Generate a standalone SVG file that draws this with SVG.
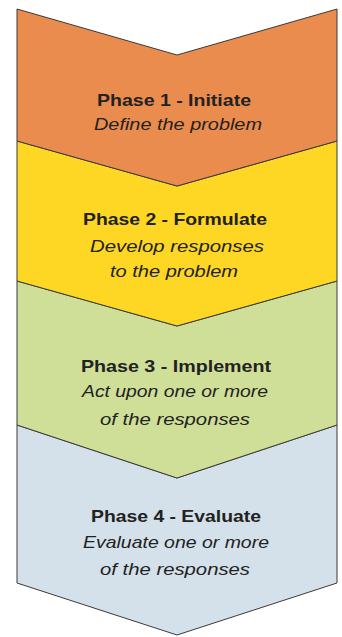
<svg xmlns="http://www.w3.org/2000/svg" width="342" height="637" viewBox="0 0 342 637">
  <style>
    .band { stroke: #3a3a3a; stroke-width: 1; stroke-linejoin: miter; }
    .title { font-family: "Liberation Sans", Arial, sans-serif; font-weight: bold; font-size: 17px; fill: #222; text-anchor: middle; }
    .sub { font-family: "Liberation Sans", Arial, sans-serif; font-style: italic; font-size: 16.5px; fill: #222; text-anchor: middle; }
  </style>
  <rect width="342" height="637" fill="#ffffff"/>

  <!-- Phase 4 -->
  <g id="phase4">
    <polygon class="band" fill="#d4e1ea" points="17,425 177,478 337,425 337,583 177,635 17,583"/>
    <text class="title" x="176" y="522" textLength="170" lengthAdjust="spacingAndGlyphs">Phase 4 - Evaluate</text>
    <text class="sub" x="176" y="548" textLength="186" lengthAdjust="spacingAndGlyphs">Evaluate one or more</text>
    <text class="sub" x="175" y="575" textLength="150" lengthAdjust="spacingAndGlyphs">of the responses</text>
  </g>

  <!-- Phase 3 -->
  <g id="phase3">
    <polygon class="band" fill="#d0df98" points="17,281 177,326 337,281 337,425 177,478 17,425"/>
    <text class="title" x="176" y="372" textLength="190" lengthAdjust="spacingAndGlyphs">Phase 3 - Implement</text>
    <text class="sub" x="175" y="397" textLength="186" lengthAdjust="spacingAndGlyphs">Act upon one or more</text>
    <text class="sub" x="175" y="425" textLength="150" lengthAdjust="spacingAndGlyphs">of the responses</text>
  </g>

  <!-- Phase 2 -->
  <g id="phase2">
    <polygon class="band" fill="#fdd723" points="17,141 177,186 337,141 337,281 177,326 17,281"/>
    <text class="title" x="175" y="225" textLength="184" lengthAdjust="spacingAndGlyphs">Phase 2 - Formulate</text>
    <text class="sub" x="177" y="252" textLength="174" lengthAdjust="spacingAndGlyphs">Develop responses</text>
    <text class="sub" x="174" y="277" textLength="128" lengthAdjust="spacingAndGlyphs">to the problem</text>
  </g>

  <!-- Phase 1 -->
  <g id="phase1">
    <polygon class="band" fill="#eb8c4f" points="17,9 177,55 337,9 337,141 177,186 17,141"/>
    <text class="title" x="174" y="106" textLength="154" lengthAdjust="spacingAndGlyphs">Phase 1 - Initiate</text>
    <text class="sub" x="178" y="130" textLength="168" lengthAdjust="spacingAndGlyphs">Define the problem</text>
  </g>

  <g id="connectors"/>
</svg>
